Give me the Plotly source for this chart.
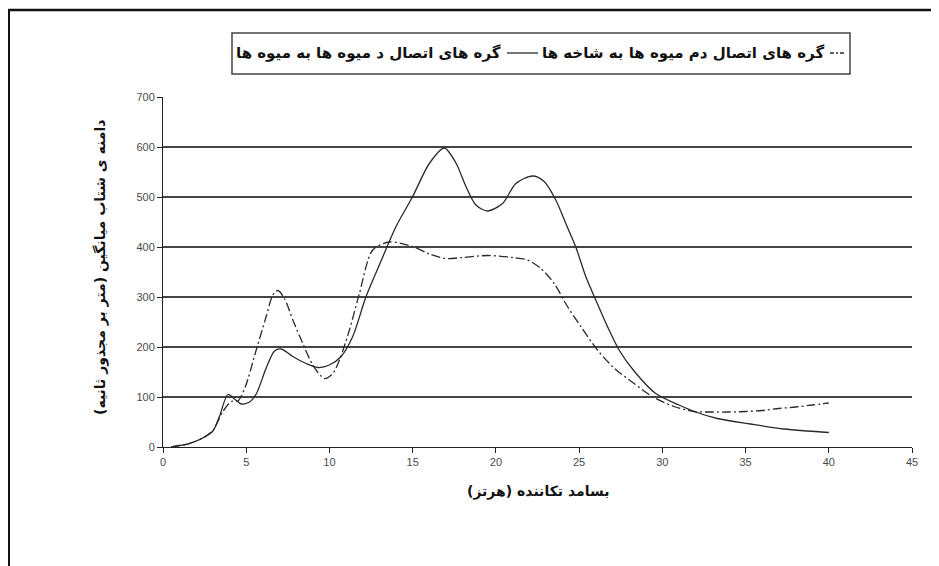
import plotly.graph_objects as go

# ---- data ----
fruit_x = [0.5, 1, 1.5, 2, 2.5, 3, 3.4, 3.9, 4.3, 4.7, 5.2, 5.6, 6.2, 6.7, 7.1, 7.8, 8.6, 9.3,
           10, 10.7, 11.4, 12.2, 13.1, 14, 15, 16, 16.9, 17.6, 18.2, 18.8, 19.5, 20.4, 21.2,
           22.2, 22.9, 23.6, 24.2, 24.8, 25.4, 26, 26.8, 27.4, 28.3, 29.6, 31, 32, 33.3,
           35.3, 37.3, 38.7, 40]
fruit_y = [0, 3, 6, 12, 20, 32, 62, 105, 96, 86, 90, 106, 158, 192, 196, 181, 167, 159,
           164, 181, 221, 301, 372, 441, 501, 567, 598, 568, 521, 484, 472, 487, 527,
           542, 531, 494, 447, 400, 341, 294, 234, 194, 152, 107, 84, 70, 57,
           46, 36, 32, 29]

branch_x = [0.5, 1, 1.5, 2, 2.5, 3, 3.6, 4.1, 4.5, 4.95, 5.6, 6.2, 6.6, 6.9, 7.3, 7.8, 8.4,
            9.0, 9.7, 10.2, 10.6, 11.2, 11.8, 12.6, 13.6, 15, 16, 17, 18, 19.5, 21, 21.9,
            22.7, 23.5, 24.3, 25.1, 26.1, 27.1, 28.3, 29.4, 30.7, 31.9, 33, 34, 35, 36,
            37, 38, 39, 40]
branch_y = [0, 3, 6, 12, 20, 33, 71, 91, 92, 121, 194, 261, 304, 313, 297, 254, 207,
            164, 137, 147, 174, 234, 307, 394, 410, 401, 386, 377, 379, 383, 379, 374,
            357, 327, 281, 241, 194, 158, 127, 101, 81, 71, 70, 70, 71, 73,
            77, 80, 84, 88]

x_ticks = [0, 5, 10, 15, 20, 25, 30, 35, 40, 45]
y_ticks = [0, 100, 200, 300, 400, 500, 600, 700]
grid_vals = [100, 200, 300, 400, 500, 600]

name_fruit = "گره های اتصال د میوه ها به میوه ها"
name_branch = "گره های اتصال دم میوه ها به شاخه ها"
x_title = "بسامد تکاننده (هرتز)"
y_title = "دامنه ی شتاب میانگین (متر بر مجذور ثانیه)"

LINE = "#2a2a2a"
AR_FONT = "DejaVu Sans, sans-serif"

fig = go.Figure()
fig.add_trace(go.Scatter(x=fruit_x, y=fruit_y, mode="lines", name=name_fruit,
                         line=dict(color=LINE, width=1.3, shape="spline", smoothing=0.8),
                         showlegend=False))
fig.add_trace(go.Scatter(x=branch_x, y=branch_y, mode="lines", name=name_branch,
                         line=dict(color=LINE, width=1.3, shape="spline", smoothing=0.8,
                                   dash="9px,3px,2px,3px"),
                         showlegend=False))
# empty trace that hosts the gridline axis
fig.add_trace(go.Scatter(x=[None], y=[None], yaxis="y2", showlegend=False, hoverinfo="skip"))

# page has an 8px body margin; figure is sized to fill the rest of the window
OFF = 8
W, H = 939 - OFF, 566 - OFF
PL, PR, PT, PB = 163, 912, 97, 447          # plot area in page pixels
L, T = PL - OFF, PT - OFF
R, B = W - (PR - OFF), H - (PB - OFF)
pw, ph = PR - PL, PB - PT

def px_x(p):
    return (p - PL) / pw

def px_y(p):
    return (PB - p) / ph

tickfont = dict(family="Liberation Sans, Arial", size=11, color="#4a4a4a")
fig.update_layout(
    width=W, height=H,
    margin=dict(l=L, r=R, t=T, b=B),
    paper_bgcolor="white", plot_bgcolor="white",
    xaxis=dict(range=[0, 45], tickvals=x_ticks, showgrid=False, zeroline=False,
               showline=True, linecolor="#222", linewidth=1,
               ticks="outside", ticklen=5, tickcolor="#222", tickfont=tickfont),
    yaxis=dict(range=[0, 700], tickvals=y_ticks, showgrid=False, zeroline=False,
               showline=True, linecolor="#222", linewidth=1,
               ticks="outside", ticklen=5, tickcolor="#222", tickfont=tickfont),
    yaxis2=dict(range=[0, 700], overlaying="y", tickvals=grid_vals, showgrid=True,
                gridcolor="#454545", gridwidth=1.5, showticklabels=False, zeroline=False,
                showline=False, ticks=""),
)

legfont = dict(family=AR_FONT, size=15, color="#111")
titlefont = dict(family=AR_FONT, size=14, color="#111")
annotations = [
    dict(text="<b>" + x_title + "</b>", xref="paper", yref="paper", x=px_x(538), y=px_y(491),
         showarrow=False, font=titlefont, xanchor="center", yanchor="middle"),
    dict(text="<b>" + y_title + "</b>", xref="paper", yref="paper", x=px_x(100), y=px_y(268),
         textangle=-90, showarrow=False, font=titlefont, xanchor="center", yanchor="middle"),
    dict(text="<b>" + name_fruit + "</b>", xref="paper", yref="paper", x=px_x(503), y=px_y(53),
         showarrow=False, font=legfont, xanchor="right", yanchor="middle"),
    dict(text="<b>" + name_branch + "</b>", xref="paper", yref="paper", x=px_x(826), y=px_y(53),
         showarrow=False, font=legfont, xanchor="right", yanchor="middle"),
]
fig.update_layout(annotations=annotations)

shapes = [
    # legend box
    dict(type="rect", xref="paper", yref="paper", x0=px_x(232), x1=px_x(850),
         y0=px_y(74), y1=px_y(33), line=dict(color="#444", width=1.5), fillcolor="white",
         layer="below"),
    # legend samples
    dict(type="line", xref="paper", yref="paper", x0=px_x(507), x1=px_x(538),
         y0=px_y(53), y1=px_y(53), line=dict(color=LINE, width=1.3)),
    dict(type="line", xref="paper", yref="paper", x0=px_x(830), x1=px_x(846),
         y0=px_y(53), y1=px_y(53), line=dict(color=LINE, width=1.3, dash="4px,2px,2px,2px")),
    # outer frame (top and left edges)
    dict(type="line", xref="paper", yref="paper", x0=px_x(8.5), x1=px_x(945),
         y0=px_y(10), y1=px_y(10), line=dict(color="#111", width=2.5)),
    dict(type="line", xref="paper", yref="paper", x0=px_x(8.5), x1=px_x(8.5),
         y0=px_y(9), y1=px_y(575), line=dict(color="#111", width=3)),
]
fig.update_layout(shapes=shapes)

fig.write_html("out.html")
